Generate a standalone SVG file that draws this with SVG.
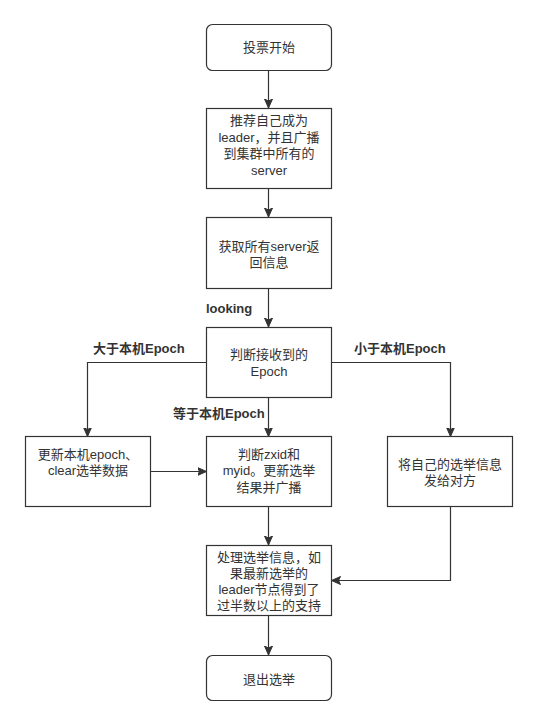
<svg xmlns="http://www.w3.org/2000/svg" width="537" height="724" viewBox="0 0 537 724">
<defs>
<marker id="arr" markerWidth="10" markerHeight="10" refX="9" refY="5" orient="auto" markerUnits="userSpaceOnUse">
<path d="M0,1 L9,5 L0,9 L2,5 Z" fill="#333" stroke="#333" stroke-width="1"/>
</marker>
</defs>
<style>
.box{fill:#fff;stroke:#333;stroke-width:1.2}
.t{font-family:"Liberation Sans","Noto Sans CJK SC",sans-serif;font-size:13px;fill:#333;text-anchor:middle;dominant-baseline:central}
.lbl{font-family:"Liberation Sans","Noto Sans CJK SC",sans-serif;font-size:13px;font-weight:bold;fill:#333;dominant-baseline:central}
.c{fill:none;stroke:#333;stroke-width:1.2;marker-end:url(#arr)}
</style>
<rect width="537" height="724" fill="#fff"/>
<g id="connectors">
<path class="c" d="M268.5,70 V108"/>
<path class="c" d="M268.5,188 V217"/>
<path class="c" d="M268.5,288 V327"/>
<path class="c" d="M206.5,362.5 H87.5 V436.5"/>
<path class="c" d="M331.5,362.5 H450.5 V436.5"/>
<path class="c" d="M268.5,397 V436.5"/>
<path class="c" d="M150,471.5 H206.5"/>
<path class="c" d="M268.5,506 V545"/>
<path class="c" d="M450.5,506 V580.5 H331.5"/>
<path class="c" d="M268.5,616 V655"/>
</g>
<g id="labels">
<text class="lbl" x="206" y="308">looking</text>
<text class="lbl" x="93" y="348">大于本机Epoch</text>
<text class="lbl" x="173" y="413">等于本机Epoch</text>
<text class="lbl" x="354" y="348">小于本机Epoch</text>
</g>
<g id="n1"><rect class="box" x="206.5" y="24.5" width="125" height="46" rx="6"/><text class="t" x="269" y="47.5">投票开始</text></g>
<g id="n2"><rect class="box" x="206.5" y="108.5" width="125" height="80"/>
<text class="t" x="269" y="120.5">推荐自己成为</text><text class="t" x="269" y="137">leader，并且广播</text><text class="t" x="269" y="153.5">到集群中所有的</text><text class="t" x="269" y="170">server</text></g>
<g id="n3"><rect class="box" x="206.5" y="217.5" width="125" height="71"/>
<text class="t" x="269" y="246">获取所有server返</text><text class="t" x="269" y="262">回信息</text></g>
<g id="n4"><rect class="box" x="206.5" y="327.5" width="125" height="70"/>
<text class="t" x="269" y="354.5">判断接收到的</text><text class="t" x="269" y="371">Epoch</text></g>
<g id="n5"><rect class="box" x="25.5" y="436.5" width="125" height="70"/>
<text class="t" x="88" y="454">更新本机epoch、</text><text class="t" x="88" y="470">clear选举数据</text></g>
<g id="n6"><rect class="box" x="206.5" y="436.5" width="125" height="70"/>
<text class="t" x="269" y="454">判断zxid和</text><text class="t" x="269" y="470.5">myid。更新选举</text><text class="t" x="269" y="487">结果并广播</text></g>
<g id="n7"><rect class="box" x="387.5" y="436.5" width="125" height="70"/>
<text class="t" x="450" y="464">将自己的选举信息</text><text class="t" x="450" y="480">发给对方</text></g>
<g id="n8"><rect class="box" x="206.5" y="545.5" width="125" height="70"/>
<text class="t" x="269" y="557">处理选举信息，如</text><text class="t" x="269" y="573">果最新选举的</text><text class="t" x="269" y="589">leader节点得到了</text><text class="t" x="269" y="605">过半数以上的支持</text></g>
<g id="n9"><rect class="box" x="206.5" y="655.5" width="125" height="45" rx="6"/><text class="t" x="269" y="679">退出选举</text></g>
</svg>
